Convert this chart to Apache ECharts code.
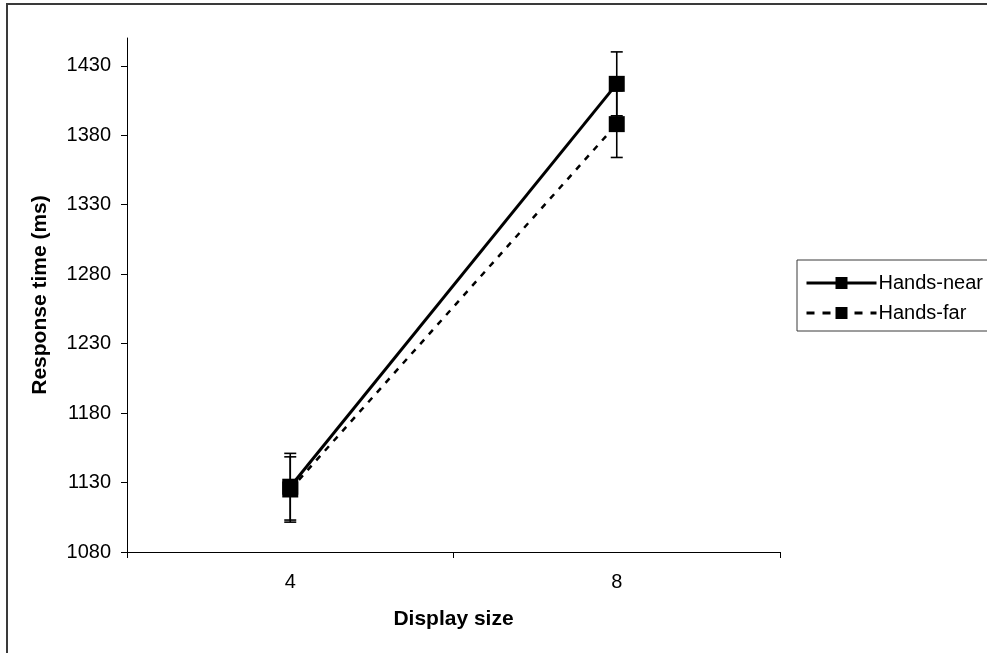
<!DOCTYPE html>
<html>
<head>
<meta charset="utf-8">
<script src="https://cdn.jsdelivr.net/npm/echarts@6/dist/echarts.min.js"></script>
<style>
  html, body { margin: 0; padding: 0; background: #fff; }
  #chart { width: 987px; height: 653px; }
</style>
</head>
<body>
<div id="chart"></div>
<script>
// Display sizes on the x axis
const categories = ['4', '8'];
// Y axis tick values (ms)
const yTicks = [1080, 1130, 1180, 1230, 1280, 1330, 1380, 1430];
// Mean response times and error half-widths per condition
const handsNear = [1127, 1417];
const handsNearErr = [24, 23];
const handsFar = [1125, 1388];
const handsFarErr = [23.5, 24];

const FONT = 'Liberation Sans, Arial, sans-serif';

function errData(means, errs) {
  return means.map((m, i) => [i, m - errs[i], m + errs[i]]);
}

function renderErr(params, api) {
  const x = api.value(0);
  const lo = api.coord([x, api.value(1)]);
  const hi = api.coord([x, api.value(2)]);
  const hw = 6;
  const st = { stroke: '#000', lineWidth: 1.6 };
  return {
    type: 'group',
    children: [
      { type: 'line', shape: { x1: lo[0], y1: lo[1], x2: hi[0], y2: hi[1] }, style: st },
      { type: 'line', shape: { x1: lo[0] - hw, y1: lo[1], x2: lo[0] + hw, y2: lo[1] }, style: st },
      { type: 'line', shape: { x1: hi[0] - hw, y1: hi[1], x2: hi[0] + hw, y2: hi[1] }, style: st }
    ]
  };
}

const chart = echarts.init(document.getElementById('chart'), null, { renderer: 'canvas' });

chart.setOption({
  animation: false,
  backgroundColor: '#fff',
  textStyle: { fontFamily: FONT },
  graphic: [{
    type: 'rect',
    shape: { x: 7, y: 4, width: 1100, height: 800 },
    style: { fill: 'none', stroke: '#3a3a3a', lineWidth: 2 },
    silent: true,
    z: -1
  }],
  grid: { left: 127, right: 207, top: 38, bottom: 101, containLabel: false },
  legend: {
    orient: 'vertical',
    left: 797,
    top: 260,
    padding: [13, 10, 8, 8],
    borderColor: '#3a3a3a',
    borderWidth: 1,
    itemWidth: 70,
    itemHeight: 15,
    itemGap: 10,
    textStyle: { fontFamily: FONT, fontSize: 20, color: '#000', padding: [0, 0, 0, -3] },
    data: [
      { name: 'Hands-near', lineStyle: { width: 3, type: 'solid', color: '#000' } },
      { name: 'Hands-far', lineStyle: { width: 3, type: [8, 8], color: '#000' } }
    ]
  },
  xAxis: {
    type: 'category',
    data: categories,
    boundaryGap: true,
    name: 'Display size',
    nameLocation: 'middle',
    nameGap: 57,
    nameTextStyle: { fontFamily: FONT, fontSize: 21, fontWeight: 'bold', color: '#000' },
    axisLine: { lineStyle: { color: '#000', width: 1 } },
    axisTick: { show: true, inside: false, length: 6, alignWithLabel: false, lineStyle: { color: '#000' } },
    axisLabel: { fontFamily: FONT, fontSize: 20, color: '#000', margin: 20 },
    splitLine: { show: false }
  },
  yAxis: {
    type: 'value',
    min: 1080,
    max: 1450,
    interval: 50,
    name: 'Response time (ms)',
    nameLocation: 'middle',
    nameGap: 76,
    nameTextStyle: { fontFamily: FONT, fontSize: 21, fontWeight: 'bold', color: '#000' },
    axisLine: { show: true, lineStyle: { color: '#000', width: 1 } },
    axisTick: { show: true, inside: false, length: 6, lineStyle: { color: '#000' }, customValues: yTicks },
    axisLabel: {
      fontFamily: FONT, fontSize: 20, color: '#000', margin: 16, customValues: yTicks,
      formatter: (v) => String(v)
    },
    splitLine: { show: false }
  },
  series: [
    {
      name: 'Hands-near',
      type: 'line',
      data: handsNear,
      symbol: 'rect',
      symbolSize: 16,
      z: 3,
      lineStyle: { color: '#000', width: 3, type: 'solid' },
      itemStyle: { color: '#000' }
    },
    {
      name: 'Hands-far',
      type: 'line',
      data: handsFar,
      symbol: 'rect',
      symbolSize: 16,
      z: 3,
      lineStyle: { color: '#000', width: 2.5, type: [6, 7] },
      itemStyle: { color: '#000' }
    },
    {
      type: 'custom',
      name: 'near-err',
      renderItem: renderErr,
      data: errData(handsNear, handsNearErr),
      encode: { x: 0, y: [1, 2] },
      z: 1,
      silent: true
    },
    {
      type: 'custom',
      name: 'far-err',
      renderItem: renderErr,
      data: errData(handsFar, handsFarErr),
      encode: { x: 0, y: [1, 2] },
      z: 1,
      silent: true
    }
  ]
});
</script>
</body>
</html>
